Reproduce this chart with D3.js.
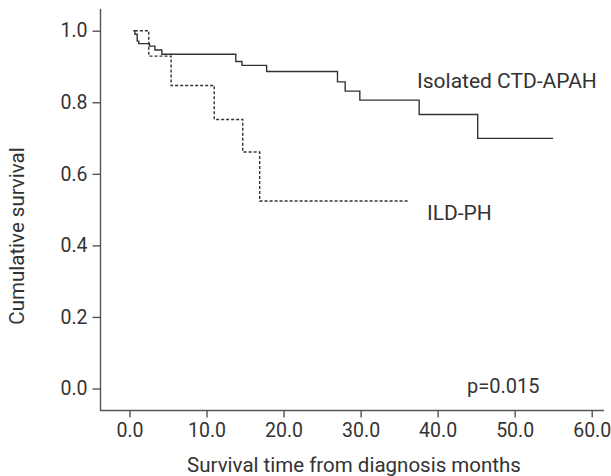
<!DOCTYPE html>
<html><head><meta charset="utf-8">
<script src="https://cdn.jsdelivr.net/npm/d3@7"></script>
<style>body{margin:0;background:#fff;} text{font-family:Roboto, "DejaVu Sans", sans-serif;fill:#333;}</style>
</head><body>
<svg id="chart" width="611" height="476"></svg>
<script>
const ctdTimes = [0.5, 0.7, 1.0, 1.2, 2.6, 3.3, 4.2, 13.8, 14.6, 17.8, 27.0, 28.0, 29.9, 37.6, 45.2, 55.0];
const ctdSurv  = [1.0, 0.99, 0.971, 0.964, 0.957, 0.946, 0.934, 0.914, 0.903, 0.886, 0.857, 0.831, 0.806, 0.766, 0.699, 0.699];
const ildTimes = [0.7, 2.5, 5.4, 11.0, 14.7, 16.9, 36.2];
const ildSurv  = [1.0, 0.929, 0.847, 0.752, 0.661, 0.524, 0.524];
const xTicks = [0, 10, 20, 30, 40, 50, 60];
const yTicks = [0, 0.2, 0.4, 0.6, 0.8, 1.0];
const seriesLabels = ["Isolated CTD-APAH", "ILD-PH"];
const pText = "p=0.015";

const svg = d3.select("#chart");
const x = d3.scaleLinear().domain([0, 60]).range([129.5, 591.7]);
const y = d3.scaleLinear().domain([0, 1]).range([388.5, 30.7]);
const axisColor = "#555";

svg.append("line").attr("x1", 100.5).attr("x2", 100.5).attr("y1", 9).attr("y2", 410.5)
  .attr("stroke", axisColor).attr("stroke-width", 1.4);
svg.append("line").attr("x1", 100).attr("x2", 604).attr("y1", 410.5).attr("y2", 410.5)
  .attr("stroke", axisColor).attr("stroke-width", 1.4);

const xa = svg.append("g").attr("transform", "translate(0,410.5)")
  .call(d3.axisBottom(x).tickValues(xTicks).tickFormat(d3.format(".1f")).tickSize(7).tickPadding(6));
const ya = svg.append("g").attr("transform", "translate(100.5,0)")
  .call(d3.axisLeft(y).tickValues(yTicks).tickFormat(d3.format(".1f")).tickSize(8).tickPadding(5));
[xa, ya].forEach(a => {
  a.select(".domain").remove();
  a.selectAll("line").attr("stroke", axisColor).attr("stroke-width", 1.4);
  a.selectAll("text").attr("font-size", 19.5).attr("fill", "#333").style("font-family", "Roboto, sans-serif");
});

const line = d3.line().x(d => x(d[0])).y(d => y(d[1])).curve(d3.curveStepAfter);
svg.append("path").datum(d3.zip(ctdTimes, ctdSurv)).attr("d", line)
  .attr("fill", "none").attr("stroke", "#333").attr("stroke-width", 1.4);
svg.append("path").datum(d3.zip(ildTimes, ildSurv)).attr("d", line)
  .attr("fill", "none").attr("stroke", "#333").attr("stroke-width", 1.4).attr("stroke-dasharray", "3,2");

svg.append("text").attr("x", 417).attr("y", 88).attr("font-size", 21).text(seriesLabels[0]);
svg.append("text").attr("x", 427).attr("y", 220).attr("font-size", 21).text(seriesLabels[1]);
svg.append("text").attr("x", 467).attr("y", 393).attr("font-size", 20).text(pText);

svg.append("text").attr("x", 354).attr("y", 472).attr("text-anchor", "middle").attr("font-size", 20.5)
  .text("Survival time from diagnosis months");
svg.append("text").attr("transform", "translate(24,236) rotate(-90)").attr("text-anchor", "middle")
  .attr("font-size", 20.5).text("Cumulative survival");
</script>
</body></html>
